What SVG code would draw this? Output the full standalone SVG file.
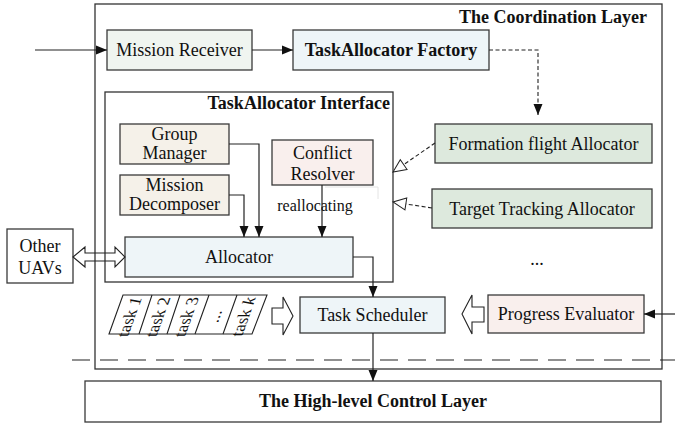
<svg xmlns="http://www.w3.org/2000/svg" width="675" height="424" viewBox="0 0 675 424">
<style>
text{font-family:"Liberation Serif","Times New Roman",serif;font-size:18px;fill:#111}
.b{font-weight:bold}
.box{stroke:#3a3a3a;stroke-width:1.3}
.ln{fill:none;stroke:#222;stroke-width:1.2}
.dash{fill:none;stroke:#222;stroke-width:1.1;stroke-dasharray:4 2.5}
.task{font-size:17px}
</style>
<defs>
<marker id="ah" markerUnits="userSpaceOnUse" markerWidth="12" markerHeight="10" refX="11" refY="5" orient="auto">
<path d="M0,0.5 L11,5 L0,9.5 z" fill="#111"/>
</marker>
<marker id="hol" markerUnits="userSpaceOnUse" markerWidth="16" markerHeight="14" refX="14" refY="7" orient="auto">
<path d="M1,1 L14,7 L1,13 z" fill="#fff" stroke="#222" stroke-width="1"/>
</marker>
</defs>

<g id="coordination-layer">
<rect x="95" y="4" width="567" height="365" fill="#fff" stroke="#333" stroke-width="1.3"/>
<text class="b" x="647" y="23" text-anchor="end">The Coordination Layer</text>
</g>

<g id="interface">
<rect x="105" y="92" width="288" height="190" fill="#fff" stroke="#333" stroke-width="1.3"/>
<text class="b" x="390" y="109" text-anchor="end">TaskAllocator Interface</text>
</g>

<g id="mission-receiver">
<rect class="box" x="107" y="30" width="145" height="40" fill="#f0f5f0"/>
<text x="179.5" y="56" text-anchor="middle">Mission Receiver</text>
</g>

<g id="factory">
<rect class="box" x="293" y="30" width="196" height="40" fill="#eef5f8"/>
<text class="b" x="391" y="56" text-anchor="middle">TaskAllocator Factory</text>
</g>

<g id="formation">
<rect class="box" x="435" y="124" width="217" height="39" fill="#dde9dd"/>
<text x="543.5" y="150" text-anchor="middle">Formation flight Allocator</text>
</g>

<g id="target">
<rect class="box" x="432" y="189" width="220" height="39" fill="#dde9dd"/>
<text x="542" y="215" text-anchor="middle">Target Tracking Allocator</text>
</g>

<g id="more-allocators">
<text x="537" y="265" text-anchor="middle">...</text>
</g>

<g id="group-manager">
<rect class="box" x="120" y="124" width="109" height="40" fill="#f5f1e9"/>
<text x="174.5" y="140" text-anchor="middle">Group</text>
<text x="174.5" y="159" text-anchor="middle">Manager</text>
</g>

<g id="mission-decomposer">
<rect class="box" x="120" y="175" width="109" height="40" fill="#f5f1e9"/>
<text x="174.5" y="191" text-anchor="middle">Mission</text>
<text x="174.5" y="210" text-anchor="middle">Decomposer</text>
</g>

<g id="conflict-resolver">
<rect class="box" x="272" y="140" width="101" height="45" fill="#f9efed"/>
<text x="322.5" y="159" text-anchor="middle">Conflict</text>
<text x="322.5" y="180" text-anchor="middle">Resolver</text>
</g>

<g id="allocator">
<rect class="box" x="125" y="237" width="228" height="40" fill="#eef5f8"/>
<text x="239" y="263" text-anchor="middle">Allocator</text>
</g>

<g id="other-uavs">
<rect class="box" x="7" y="229" width="66" height="54" fill="#fff"/>
<text x="40" y="252" text-anchor="middle">Other</text>
<text x="40" y="274" text-anchor="middle">UAVs</text>
</g>

<g id="task-queue">
<path d="M123,295 H267 L252,334 H109 Z" fill="#fff" stroke="#222" stroke-width="1.1"/>
<path d="M152,295 L139,334 M180,295 L167,334 M209,295 L195,334 M237,295 L223,334" stroke="#222" stroke-width="1.1" fill="none"/>
<g transform="translate(130,317) skewX(-19.7) rotate(-90)"><text class="task" x="0" y="5" text-anchor="middle">task <tspan font-style="italic">1</tspan></text></g>
<g transform="translate(158.5,317) skewX(-19.7) rotate(-90)"><text class="task" x="0" y="5" text-anchor="middle">task 2</text></g>
<g transform="translate(187,317) skewX(-19.7) rotate(-90)"><text class="task" x="0" y="5" text-anchor="middle">task 3</text></g>
<g transform="translate(215,317) skewX(-19.7) rotate(-90)"><text class="task" x="0" y="5" text-anchor="middle">...</text></g>
<g transform="translate(244,317) skewX(-19.7) rotate(-90)"><text class="task" x="0" y="5" text-anchor="middle">task <tspan font-style="italic">k</tspan></text></g>
</g>

<g id="task-scheduler">
<rect class="box" x="300" y="297" width="145" height="36" fill="#eef5f8"/>
<text x="372.5" y="321" text-anchor="middle">Task Scheduler</text>
</g>

<g id="progress-evaluator">
<rect class="box" x="488" y="295" width="156" height="38" fill="#f9efed"/>
<text x="566" y="320" text-anchor="middle">Progress Evaluator</text>
</g>

<g id="high-level">
<rect class="box" x="85" y="381" width="576" height="41" fill="#fff"/>
<text class="b" x="373" y="407" text-anchor="middle">The High-level Control Layer</text>
</g>

<g id="connectors">
<line class="ln" x1="35" y1="50" x2="107" y2="50" marker-end="url(#ah)"/>
<line class="ln" x1="252" y1="50" x2="293" y2="50" marker-end="url(#ah)"/>
<path class="dash" d="M489,50 H538 V115" marker-end="url(#ah)"/>
<line class="dash" x1="435" y1="143" x2="393" y2="172" marker-end="url(#hol)"/>
<line class="dash" x1="432" y1="208" x2="393" y2="202" marker-end="url(#hol)"/>
<path class="ln" d="M229,144 H259 V237" marker-end="url(#ah)"/>
<path class="ln" d="M229,195 H244 V237" marker-end="url(#ah)"/>
<line class="ln" x1="322" y1="185" x2="322" y2="237" marker-end="url(#ah)"/>
<path d="M325,187 H378 V199" fill="none" stroke="#e4e4e4" stroke-width="1"/>
<text x="315" y="211" text-anchor="middle" style="font-size:16px">reallocating</text>
<path class="ln" d="M353,257 H373 V297" marker-end="url(#ah)"/>
<line class="ln" x1="373" y1="333" x2="373" y2="381" marker-end="url(#ah)"/>
<line class="ln" x1="675" y1="314" x2="644" y2="314" marker-end="url(#ah)"/>
<path d="M73,257 L85,247 V253 H115 V247 L125,257 L115,267 V261 H85 V267 Z" fill="none" stroke="#222" stroke-width="1.1"/>
<path d="M272,308 H283 V297 L293,316 L283,335 V324 H272 Z" fill="#fff" stroke="#222" stroke-width="1.1"/>
<path d="M484,307 H472 V295 L462,314 L472,334 V322 H484 Z" fill="#fff" stroke="#222" stroke-width="1.1"/>
<line x1="72" y1="360" x2="675" y2="360" stroke="#222" stroke-width="1.2" stroke-dasharray="18 10"/>
</g>
</svg>
